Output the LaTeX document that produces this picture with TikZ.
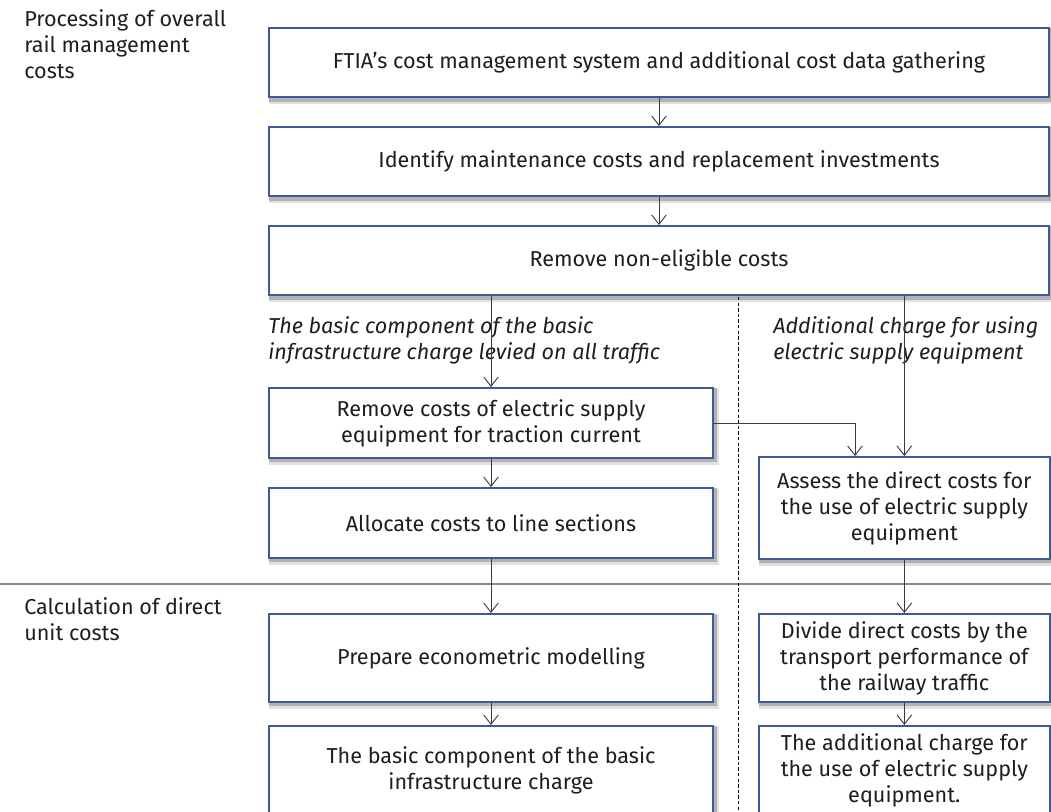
\documentclass[tikz,border=0pt]{standalone}
\usepackage{fontspec}
\setmainfont{Fira Sans}
\usepackage{xcolor}
\usepackage{tikz}
\usetikzlibrary{arrows.meta, positioning, calc, backgrounds}
\definecolor{stepblue}{HTML}{3D5B9B}
\definecolor{textgray}{HTML}{1E1E1E}
\definecolor{arrowgray}{HTML}{3C3C3C}
\definecolor{rulegray}{HTML}{8A8A8A}
\newcommand{\boxfont}{\fontsize{16.2}{19.5}\selectfont}
\tikzset{
  phase_label/.style={anchor=north west, align=left, inner sep=0pt, font=\boxfont, text=textgray},
  branch_label/.style={anchor=north west, align=left, inner sep=0pt, font=\boxfont\itshape, text=textgray},
  step_box/.style={draw=stepblue, line width=1.5pt, fill=white, text=textgray, align=center, anchor=north west, inner sep=0pt, font=\boxfont},
  step_wide/.style={step_box, minimum width=585pt, minimum height=52pt},
  step_left/.style={step_box, minimum width=333pt, minimum height=52.5pt},
  step_left_tall/.style={step_box, minimum width=333pt, minimum height=66pt},
  step_right/.style={step_box, minimum width=218pt, minimum height=66pt},
  step_shadow_outer/.style={fill=black!12},
  step_shadow_inner/.style={fill=black!30},
  flow_arrow/.style={draw=arrowgray, line width=0.7pt, -{Straight Barb[length=7pt, width=11pt, line width=0.7pt]}},
  phase_rule/.style={draw=rulegray, line width=1.1pt},
  lane_divider/.style={draw=black, line width=0.7pt, dash pattern=on 2.6pt off 1.6pt}
}

\begin{document}
\begin{tikzpicture}[x=0.75pt, y=-0.75pt]
\useasboundingbox (0,0) rectangle (1051,812);
% phase headings and divider
\node[phase_label] (phase_processing) at (24,9) {Processing of overall\\rail management\\costs};
\node[phase_label] (phase_calculation) at (24,597) {Calculation of direct\\unit costs};
\coordinate (rule_west) at (0,584);
\coordinate (rule_east) at (1051,584);
\draw[phase_rule] (rule_west) -- (rule_east);
% common steps
\node[step_wide] (gather) at (268,27) {FTIA's cost management system and additional cost data gathering};
\node[step_wide] (identify) at (268,126) {Identify maintenance costs and replacement investments};
\node[step_wide] (eligible) at (268,225) {Remove non-eligible costs};
% branch captions
\node[branch_label] (basic_caption) at (268,316) {The basic component of the basic\\infrastructure charge levied on all traffic};
\node[branch_label] (electric_caption) at (773,316) {Additional charge for using\\electric supply equipment};
\coordinate (lane_top) at (738,297);
\coordinate (lane_bottom) at (738,812);
\draw[lane_divider] (lane_top) -- (lane_bottom);
% basic component column
\node[step_left] (remove_electric) at (268,387) {Remove costs of electric supply\\equipment for traction current};
\node[step_left] (allocate) at (268,487) {Allocate costs to line sections};
\node[step_left_tall] (econometric) at (268,613) {Prepare econometric modelling};
\node[step_left_tall] (basic_charge) at (268,725) {The basic component of the basic\\infrastructure charge};
% electric supply column
\node[step_right, minimum height=76.5pt] (assess) at (758,456) {Assess the direct costs for\\the use of electric supply\\equipment};
\node[step_right] (divide) at (758,613) {Divide direct costs by the\\transport performance of\\the railway traffic};
\node[step_right] (additional_charge) at (758,725) {The additional charge for\\the use of electric supply\\equipment.};
\coordinate (assess_in) at ([xshift=-37pt]assess.north);
% soft shadows behind the steps
\begin{scope}[on background layer]
\foreach \n in {gather, identify, eligible, remove_electric, allocate, econometric, basic_charge, assess, divide, additional_charge} {
  \fill[step_shadow_outer] ([xshift=1pt, yshift=-1.5pt]\n.north west) rectangle ([xshift=3.8pt, yshift=-4.2pt]\n.south east);
  \fill[step_shadow_inner] ([xshift=1pt, yshift=-1pt]\n.north west) rectangle ([xshift=2.3pt, yshift=-2.6pt]\n.south east);
}
\end{scope}
% connectors
\draw[flow_arrow] (gather.south) -- (identify.north);
\draw[flow_arrow] (identify.south) -- (eligible.north);
\draw[flow_arrow] (remove_electric.north |- eligible.south) -- (remove_electric.north);
\draw[flow_arrow] (assess.north |- eligible.south) -- (assess.north);
\draw[flow_arrow] (remove_electric.east) -| (assess_in);
\draw[flow_arrow] (remove_electric.south) -- (allocate.north);
\draw[flow_arrow] (allocate.south) -- (econometric.north);
\draw[flow_arrow] (econometric.south) -- (basic_charge.north);
\draw[flow_arrow] (assess.south) -- (divide.north);
\draw[flow_arrow] (divide.south) -- (additional_charge.north);
\end{tikzpicture}
\end{document}
